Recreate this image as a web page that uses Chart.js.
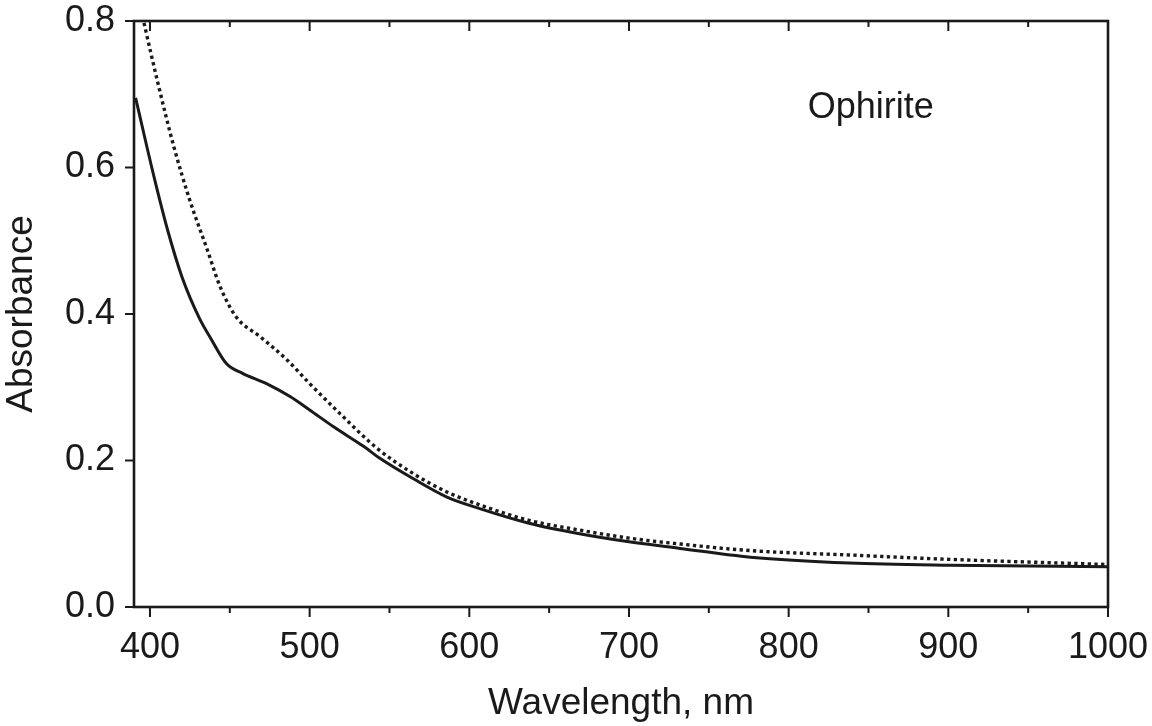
<!DOCTYPE html>
<html>
<head>
<meta charset="utf-8">
<script src="https://cdn.jsdelivr.net/npm/chart.js@4"></script>
<style>
  html, body { margin: 0; padding: 0; background: #fff; }
  #chart { display: block; }
</style>
</head>
<body>
<canvas id="chart" width="1152" height="726"></canvas>
<script>
// solid curve
const solidWavelength = [391, 403, 411, 420, 431, 438, 448, 458, 473, 488, 500, 515, 534, 544, 565, 586, 607, 638, 669, 700, 732, 776, 838, 901, 1000];
const solidAbsorbance = [0.695, 0.583, 0.515, 0.451, 0.394, 0.367, 0.332, 0.319, 0.305, 0.287, 0.269, 0.246, 0.219, 0.203, 0.175, 0.150, 0.134, 0.114, 0.100, 0.089, 0.080, 0.068, 0.060, 0.057, 0.055];

// dotted curve (runs off the top at the left edge)
const dottedWavelength = [390, 396, 405, 415, 425, 436, 444, 454, 469, 486, 500, 519, 542, 565, 586, 607, 638, 669, 700, 732, 776, 838, 901, 1000];
const dottedAbsorbance = [0.86, 0.80, 0.715, 0.628, 0.555, 0.487, 0.437, 0.396, 0.369, 0.337, 0.305, 0.264, 0.217, 0.182, 0.157, 0.139, 0.118, 0.105, 0.094, 0.086, 0.077, 0.071, 0.065, 0.058];

const xMajorTicks = [400, 500, 600, 700, 800, 900, 1000];
const xMinorTicks = [450, 550, 650, 750, 850, 950];
const yTicks = [0, 0.2, 0.4, 0.6, 0.8];

const sampleName = "Ophirite";
const sampleLabelAt = [812, 0.667];

const ink = "#1a1a1a";
const fontFamily = "'Liberation Sans', Arial, Helvetica, sans-serif";

const toPoints = (xs, ys) => xs.map((x, i) => ({ x, y: ys[i] }));

// no extra room for overhanging tick labels, the layout padding decides
const noLabelPadding = s => {
  s.paddingLeft = 0; s.paddingRight = 0; s.paddingTop = 0; s.paddingBottom = 0;
};

// frame, tick marks and the sample label
const framePlugin = {
  id: "frame",
  afterDraw(chart) {
    const { ctx, chartArea: a, scales } = chart;
    const x = scales.x, y = scales.y;
    ctx.save();
    ctx.strokeStyle = ink;
    ctx.lineWidth = 2;
    ctx.beginPath();
    xMajorTicks.forEach(v => {
      const px = x.getPixelForValue(v);
      ctx.moveTo(px, a.bottom); ctx.lineTo(px, a.bottom + 10);
      ctx.moveTo(px, a.top); ctx.lineTo(px, a.top + 10);
    });
    xMinorTicks.forEach(v => {
      const px = x.getPixelForValue(v);
      ctx.moveTo(px, a.bottom); ctx.lineTo(px, a.bottom + 6);
      ctx.moveTo(px, a.top); ctx.lineTo(px, a.top + 6);
    });
    yTicks.forEach(v => {
      const py = y.getPixelForValue(v);
      ctx.moveTo(a.left, py); ctx.lineTo(a.left - 9, py);
    });
    ctx.stroke();

    ctx.lineWidth = 2.6;
    ctx.strokeRect(a.left, a.top, a.right - a.left, a.bottom - a.top);

    ctx.fillStyle = ink;
    ctx.font = "36px " + fontFamily;
    ctx.textAlign = "left";
    ctx.textBaseline = "alphabetic";
    ctx.fillText(sampleName, x.getPixelForValue(sampleLabelAt[0]), y.getPixelForValue(sampleLabelAt[1]));
    ctx.restore();
  }
};

const ctx = document.getElementById("chart").getContext("2d");
new Chart(ctx, {
  type: "line",
  data: {
    datasets: [
      {
        data: toPoints(solidWavelength, solidAbsorbance),
        borderColor: ink,
        borderWidth: 3,
        pointRadius: 0,
        cubicInterpolationMode: "monotone"
      },
      {
        data: toPoints(dottedWavelength, dottedAbsorbance),
        borderColor: ink,
        borderWidth: 3.4,
        borderDash: [3.3, 3.4],
        pointRadius: 0,
        cubicInterpolationMode: "monotone"
      }
    ]
  },
  options: {
    responsive: false,
    animation: false,
    layout: { padding: { top: 21, right: 44, left: 0, bottom: 0 } },
    plugins: { legend: { display: false }, tooltip: { enabled: false } },
    scales: {
      x: {
        type: "linear",
        min: 390,
        max: 1000,
        afterBuildTicks: s => { s.ticks = xMajorTicks.map(v => ({ value: v })); },
        afterFit: s => { s.height = 119; noLabelPadding(s); },
        grid: { display: false },
        border: { display: false },
        ticks: {
          color: ink,
          font: { family: fontFamily, size: 36 },
          padding: 11,
          maxRotation: 0,
          autoSkip: false,
          callback: v => String(v)
        },
        title: {
          display: true,
          text: "Wavelength, nm",
          color: ink,
          font: { family: fontFamily, size: 37 },
          padding: 0
        }
      },
      y: {
        min: 0,
        max: 0.8,
        afterBuildTicks: s => { s.ticks = yTicks.map(v => ({ value: v })); },
        afterFit: s => { s.width = 134; noLabelPadding(s); },
        grid: { display: false },
        border: { display: false },
        ticks: {
          color: ink,
          font: { family: fontFamily, size: 36 },
          padding: 11,
          callback: v => v.toFixed(1)
        },
        title: {
          display: true,
          text: "Absorbance",
          color: ink,
          font: { family: fontFamily, size: 37 },
          padding: 0
        }
      }
    }
  },
  plugins: [framePlugin]
});
</script>
</body>
</html>
